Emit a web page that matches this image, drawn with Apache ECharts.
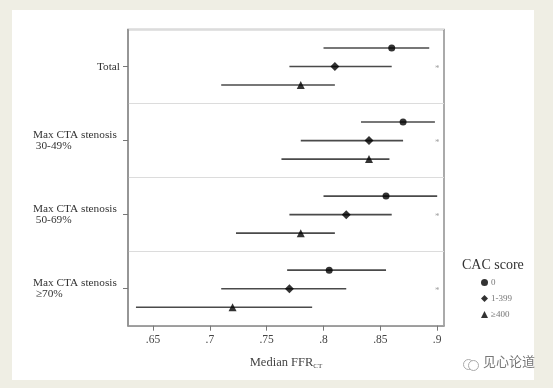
<!DOCTYPE html>
<html>
<head>
<meta charset="utf-8">
<script src="https://cdn.jsdelivr.net/npm/echarts@6/dist/echarts.min.js"></script>
<style>
html,body{margin:0;padding:0;background:#efeee4;}
#panel{position:absolute;left:12px;top:10px;width:522px;height:370px;background:#fff;}
#chart{position:absolute;left:0;top:0;width:553px;height:388px;}
</style>
</head>
<body>
<div id="panel"></div>
<div id="chart"></div>
<script>
// ---- data ----
const groups = ['Total', 'Max CTA stenosis\n 30-49%', 'Max CTA stenosis\n 50-69%', 'Max CTA stenosis\n \u226570%'];
const cacNames = ['0', '1-399', '\u2265400'];
const median0 = [0.860, 0.870, 0.855, 0.805];
const lo0     = [0.800, 0.833, 0.800, 0.768];
const hi0     = [0.893, 0.898, 0.900, 0.855];
const median1 = [0.810, 0.840, 0.820, 0.770];
const lo1     = [0.770, 0.780, 0.770, 0.710];
const hi1     = [0.860, 0.870, 0.860, 0.820];
const median2 = [0.780, 0.840, 0.780, 0.720];
const lo2     = [0.710, 0.763, 0.723, 0.635];
const hi2     = [0.810, 0.858, 0.810, 0.790];
const asteriskX = [0.90, 0.90, 0.90, 0.90];
const xTicks = [0.65, 0.70, 0.75, 0.80, 0.85, 0.90];

// ---- build ----
const medians = [median0, median1, median2];
const los = [lo0, lo1, lo2];
const his = [hi0, hi1, hi2];
const symbols = ['circle', 'diamond', 'triangle'];
const symSizes = [7, 9, 8];
function rowPos(g, r) { return 4 * g + r + 1; }

const barData = [];
for (let r = 0; r < 3; r++) for (let g = 0; g < groups.length; g++) {
  barData.push([los[r][g], his[r][g], rowPos(g, r)]);
}

const serif = 'Liberation Serif';
const series = [{
  type: 'custom',
  xAxisIndex: 0, yAxisIndex: 1,
  silent: true,
  renderItem: function (params, api) {
    const p1 = api.coord([api.value(0), api.value(2)]);
    const p2 = api.coord([api.value(1), api.value(2)]);
    return { type: 'line', shape: { x1: p1[0], y1: p1[1], x2: p2[0], y2: p2[1] },
      style: { stroke: '#4a4a4a', lineWidth: 1.6 } };
  },
  encode: { x: [0, 1], y: 2 },
  data: barData,
  z: 2
}];
for (let r = 0; r < 3; r++) {
  series.push({
    name: cacNames[r], type: 'scatter', xAxisIndex: 0, yAxisIndex: 1,
    symbol: symbols[r], symbolSize: symSizes[r],
    itemStyle: { color: '#000' },
    data: medians[r].map((v, g) => [v, rowPos(g, r)]),
    z: 3
  });
}
series.push({
  type: 'scatter', xAxisIndex: 0, yAxisIndex: 1, silent: true,
  symbolSize: 0.001,
  label: { show: true, formatter: '*', position: 'inside', color: '#888', fontSize: 9, fontFamily: serif, offset: [0, 2] },
  data: asteriskX.map((v, g) => [v, rowPos(g, 1)])
});

const chart = echarts.init(document.getElementById('chart'), null, { renderer: 'canvas' });
chart.setOption({
  animation: false,
  backgroundColor: 'transparent',
  title: { text: 'CAC score', left: 457, top: 253,
    textStyle: { fontFamily: serif, fontSize: 14, fontWeight: 'normal', color: '#333' } },
  legend: {
    data: cacNames, orient: 'vertical', left: 476, top: 273,
    itemWidth: 7, itemHeight: 7, itemGap: 7,
    textStyle: { fontFamily: serif, fontSize: 9, color: '#777', padding: [0, 0, 0, -2] }
  },
  grid: { left: 128, right: 109, top: 29.5, bottom: 62.3, show: true, borderColor: '#8f8f8f', borderWidth: 1.5, containLabel: false },
  xAxis: [{
    type: 'value', min: 0.628, max: 0.906, position: 'bottom',
    axisLine: { show: true, onZero: false, lineStyle: { color: '#8f8f8f', width: 1.5 } },
    axisTick: { show: true, inside: false, customValues: xTicks, length: 5, lineStyle: { color: '#777' } },
    axisLabel: { customValues: xTicks, margin: 8, fontFamily: serif, fontSize: 11.5, color: '#444',
      formatter: v => String(+v.toFixed(2)).replace(/^0/, '') },
    splitLine: { show: false },
    name: 'Median FFR{s|CT}',
    nameLocation: 'middle', nameGap: 31,
    nameTextStyle: { fontFamily: serif, fontSize: 12.5, color: '#444',
      rich: { s: { fontFamily: serif, fontSize: 7, color: '#444', verticalAlign: 'bottom', padding: [6, 0, 0, 0] } } }
  }],
  yAxis: [{
    type: 'category', inverse: true, data: groups, position: 'left',
    axisLine: { show: true, onZero: false, lineStyle: { color: '#8f8f8f', width: 1.5 } },
    axisTick: { show: true, inside: false, alignWithLabel: true, length: 5, lineStyle: { color: '#777' } },
    splitLine: { show: true, lineStyle: { color: '#dcdcdc', width: 1 } },
    axisLabel: {
      margin: 8, color: '#333', fontFamily: serif, fontSize: 11.3,
      formatter: v => v.indexOf('\n') >= 0 ? v.split('\n').map(s => '{l|' + s + '}').join('\n') : v,
      rich: { l: { width: 87, align: 'left', fontFamily: serif, fontSize: 11.3, lineHeight: 11.5, color: '#333' } }
    }
  }, {
    type: 'value', inverse: true, min: 0, max: 16, show: false, position: 'left'
  }],
  graphic: [
    { type: 'text', left: 483, top: 355, style: { text: '见心论道', font: '13px "Noto Sans CJK SC"', fill: '#777' } },
    { type: 'circle', left: 461, top: 357, shape: { r: 5 }, style: { fill: 'none', stroke: '#aaa', lineWidth: 1 } },
    { type: 'circle', left: 468, top: 360, shape: { r: 5 }, style: { fill: '#fff', stroke: '#aaa', lineWidth: 1 } }
  ],
  series: series
});
</script>
</body>
</html>
